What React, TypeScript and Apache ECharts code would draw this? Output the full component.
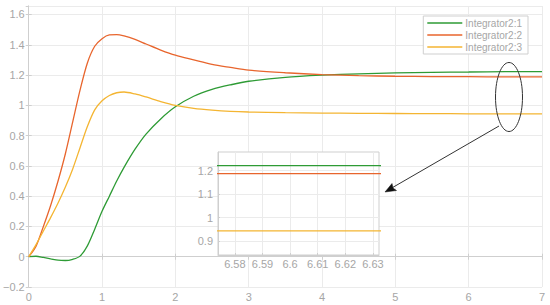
import React, { useEffect, useRef } from "react";
import * as echarts from "echarts";

const time = [0, 0.1, 0.2, 0.3, 0.4, 0.5, 0.6, 0.7, 0.8, 0.9, 1.0, 1.1, 1.2, 1.3, 1.45, 1.6, 1.8, 2.0, 2.25, 2.5, 2.75, 3.0, 3.5, 4.0, 4.5, 5.0, 5.5, 6.0, 6.5, 7.0];
const out1 = [0, 0.003, -0.005, -0.014, -0.023, -0.025, -0.017, 0.004, 0.072, 0.182, 0.3, 0.4, 0.5, 0.59, 0.71, 0.81, 0.91, 0.99, 1.06, 1.105, 1.135, 1.159, 1.185, 1.199, 1.208, 1.214, 1.218, 1.22, 1.222, 1.222];
const out2 = [0, 0.07, 0.2, 0.34, 0.5, 0.68, 0.89, 1.1, 1.28, 1.39, 1.44, 1.465, 1.467, 1.458, 1.435, 1.405, 1.365, 1.331, 1.3, 1.27, 1.25, 1.232, 1.215, 1.203, 1.196, 1.192, 1.19, 1.189, 1.188, 1.188];
const out3 = [0, 0.08, 0.17, 0.26, 0.355, 0.46, 0.58, 0.72, 0.86, 0.97, 1.03, 1.065, 1.083, 1.088, 1.075, 1.055, 1.025, 1.0, 0.98, 0.968, 0.96, 0.956, 0.952, 0.949, 0.947, 0.946, 0.945, 0.944, 0.943, 0.943];
const seriesNames = ["Integrator2:1", "Integrator2:2", "Integrator2:3"];
const colors = ["#2E9B35", "#E8652D", "#F4B532"];
const insetXTicks = [6.58, 6.59, 6.6, 6.61, 6.62, 6.63];
const insetYTicks = [0.9, 1, 1.1, 1.2];

const FONT = "'Liberation Sans', Arial, sans-serif";
const LABEL = "#a6a6a6";
const GRIDLINE = "#ebebeb";
const BORDER = "#cfcfcf";

const fmt = (v: number) => String(parseFloat(v.toFixed(3))).replace("-", "\u2212");

export default function App() {
  const ref = useRef<HTMLDivElement>(null);
  useEffect(() => {
    if (!ref.current) return;
    const chart = echarts.init(ref.current, undefined, { renderer: "svg" });
    const all = [out1, out2, out3];
    const mk = (i: number, xi: number, yi: number) => ({
      type: "line",
      name: seriesNames[i],
      xAxisIndex: xi,
      yAxisIndex: yi,
      data: time.map((t, k) => [t, all[i][k]]),
      smooth: 0.3,
      symbol: "none",
      lineStyle: { color: colors[i], width: 1.3 },
      itemStyle: { color: colors[i] },
      clip: true,
    });
    const axisCommon = {
      axisLine: { show: true, lineStyle: { color: BORDER } },
      axisTick: { show: true, inside: true, length: 3, lineStyle: { color: BORDER } },
    };
    chart.setOption({
      animation: false,
      backgroundColor: "#fff",
      textStyle: { fontFamily: FONT },
      legend: {
        data: seriesNames.map((n) => ({ name: n, icon: "rect" })),
        orient: "vertical",
        right: 22,
        top: 16,
        itemWidth: 35,
        itemHeight: 1.5,
        itemGap: 0,
        padding: [1, 6, 1, 4],
        backgroundColor: "#fff",
        borderColor: BORDER,
        borderWidth: 1,
        textStyle: { color: LABEL, fontSize: 10, fontFamily: FONT, padding: [0, 0, 0, -2], lineHeight: 12 },
        z: 20,
      },
      grid: [
        { left: 26, right: 8, top: 6, bottom: 18, show: false },
        { left: 218, top: 152, width: 161, height: 103, show: true, backgroundColor: "#fff", borderColor: BORDER, borderWidth: 1, z: 10 },
      ],
      xAxis: [
        {
          type: "value", gridIndex: 0, min: 0, max: 7, interval: 1, position: "bottom",
          ...axisCommon,
          axisLabel: { color: LABEL, fontSize: 11, margin: 4, formatter: fmt },
          splitLine: { show: true, lineStyle: { color: GRIDLINE } },
        },
        {
          type: "value", gridIndex: 0, min: 0, max: 7, interval: 1, position: "top",
          ...axisCommon,
          axisLabel: { show: false },
          splitLine: { show: false },
        },
        {
          type: "value", gridIndex: 1, min: 6.5739, max: 6.6322,
          axisLine: { show: true, lineStyle: { color: BORDER } },
          axisTick: { show: true, inside: true, length: 2, customValues: insetXTicks, lineStyle: { color: BORDER } },
          axisLabel: { color: LABEL, fontSize: 11, margin: 3, customValues: insetXTicks, formatter: fmt },
          splitLine: { show: true, lineStyle: { color: GRIDLINE } },
          z: 10,
        },
      ],
      yAxis: [
        {
          type: "value", gridIndex: 0, min: -0.2, max: 1.656, interval: 0.2, position: "left",
          ...axisCommon,
          axisLabel: { color: LABEL, fontSize: 11, margin: 4, showMaxLabel: false, formatter: fmt },
          splitLine: { show: true, lineStyle: { color: GRIDLINE } },
        },
        {
          type: "value", gridIndex: 0, min: -0.2, max: 1.656, interval: 0.2, position: "right",
          ...axisCommon,
          axisLabel: { show: false },
          splitLine: { show: false },
        },
        {
          type: "value", gridIndex: 1, min: 0.84, max: 1.28,
          axisLine: { show: true, lineStyle: { color: BORDER } },
          axisTick: { show: true, inside: true, length: 2, customValues: insetYTicks, lineStyle: { color: BORDER } },
          axisLabel: { color: LABEL, fontSize: 11, margin: 5, customValues: insetYTicks, formatter: fmt },
          splitLine: { show: true, lineStyle: { color: GRIDLINE } },
          z: 10,
        },
      ],
      series: [mk(0, 0, 0), mk(1, 0, 0), mk(2, 0, 0), { ...mk(0, 2, 2), z: 12 }, { ...mk(1, 2, 2), z: 12 }, { ...mk(2, 2, 2), z: 12 }],
      graphic: [
        {
          type: "ellipse", z: 100,
          shape: { cx: 509, cy: 97, rx: 13.5, ry: 34.5 },
          style: { fill: "none", stroke: "#333", lineWidth: 1 },
        },
        {
          type: "line", z: 100,
          shape: { x1: 499, y1: 126, x2: 390, y2: 189 },
          style: { stroke: "#333", lineWidth: 1 },
        },
        {
          type: "polygon", z: 100,
          shape: { points: [[385, 192], [396.5, 190.5], [393, 188], [392, 183.5]] },
          style: { fill: "#111", stroke: "#111", lineWidth: 0.5 },
        },
      ],
    });
    return () => chart.dispose();
  }, []);
  return <div ref={ref} style={{ position: "absolute", left: 0, top: 0, width: 550, height: 305 }} />;
}
